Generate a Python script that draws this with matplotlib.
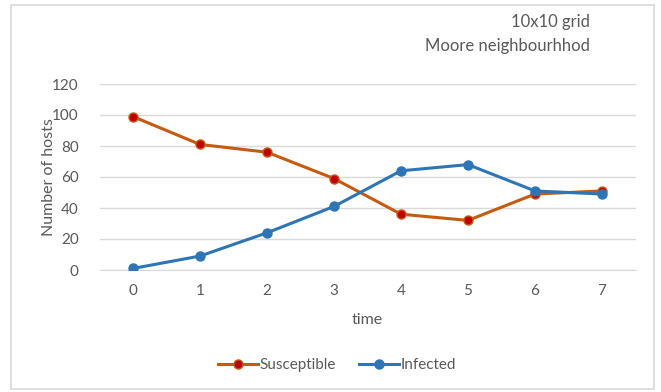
import matplotlib
matplotlib.use("Agg")
import matplotlib.pyplot as plt
from matplotlib.patches import Rectangle

time = [0, 1, 2, 3, 4, 5, 6, 7]
susceptible = [99, 81, 76, 59, 36, 32, 49, 51]
infected = [1, 9, 24, 41, 64, 68, 51, 49]
yticks = [0, 20, 40, 60, 80, 100, 120]

plt.rcParams['font.family'] = ['Lato', 'DejaVu Sans']
txt = '#595959'
grid = '#D9D9D9'

fig = plt.figure(figsize=(6.61, 3.92), dpi=100)
fig.patches.append(Rectangle((10.5/661, 1-388.5/392), (654-10.5)/661, (388.5-4.5)/392,
                             transform=fig.transFigure, fill=False, edgecolor='#D9D9D9', lw=1.2))
ax = fig.add_axes([99.5/661, 1-270/392, (635.5-99.5)/661, (270-84)/392])

ax.plot(time, susceptible, color='#C55A11', lw=2.2, marker='o', ms=6.5,
        mfc='#C00000', mec='#C55A11', mew=1, label='Susceptible', zorder=3)
ax.plot(time, infected, color='#2E75B6', lw=2.2, marker='o', ms=6.5,
        mfc='#2E75B6', mec='#2E75B6', label='Infected', zorder=3)

ax.set_xlim(-0.5, 7.5)
ax.set_ylim(0, 120)
ax.set_yticks(yticks)
ax.set_xticks(time)
ax.yaxis.grid(True, color=grid, lw=1)
ax.set_axisbelow(True)
for s in ['top', 'right', 'left']:
    ax.spines[s].set_visible(False)
ax.spines['bottom'].set_color(grid)
ax.tick_params(length=0, labelsize=11, labelcolor=txt)
ax.tick_params(axis='x', pad=10)
ax.tick_params(axis='y', pad=15)
ax.set_xlabel('time', fontsize=11.5, color=txt, labelpad=11)
ax.set_ylabel('Number of hosts', fontsize=11.5, color=txt, labelpad=-3)

fig.text(590/661, 1-22/392, '10x10 grid', ha='right', va='center', fontsize=12, color=txt)
fig.text(590/661, 1-46/392, 'Moore neighbourhhod', ha='right', va='center', fontsize=12, color=txt)

leg = fig.legend(loc='center', bbox_to_anchor=(337/661, 1-365/392), ncol=2, frameon=False,
                 fontsize=11, handlelength=2.6, handletextpad=0.1, columnspacing=1.5)
for t in leg.get_texts():
    t.set_color(txt)

fig.savefig('out.png', dpi=100)
